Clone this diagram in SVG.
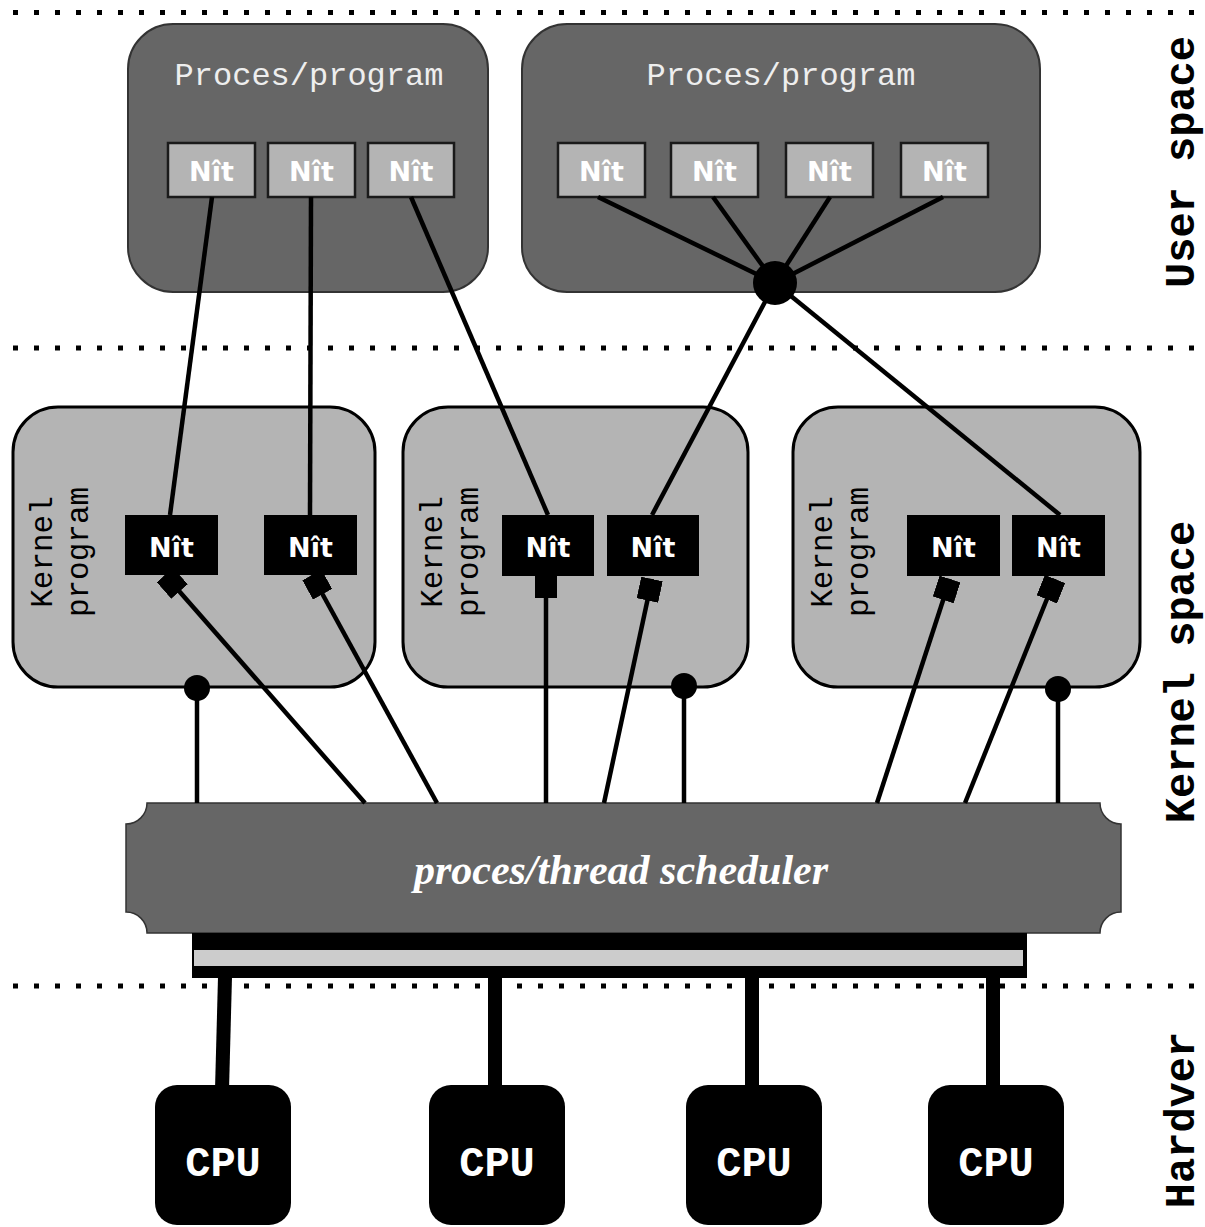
<svg xmlns="http://www.w3.org/2000/svg" width="1205" height="1227" viewBox="0 0 1205 1227">
<defs>
<style>
.dots{stroke:#000;stroke-width:5;stroke-dasharray:5 16;fill:none}
.proc{fill:#666;stroke:#333;stroke-width:2}
.kern{fill:#b4b4b4;stroke:#000;stroke-width:3}
.unit{fill:#b4b4b4;stroke:#1a1a1a;stroke-width:2.5}
.knit{fill:#000}
.nit{font-family:"DejaVu Sans",sans-serif;font-weight:bold;font-size:27px;fill:#fff;text-anchor:middle}
.ptitle{font-family:"Liberation Mono",monospace;font-size:32px;fill:#eee;text-anchor:middle}
.ktitle{font-family:"Liberation Mono",monospace;font-size:31px;fill:#000;text-anchor:middle}
.side{font-family:"Liberation Mono",monospace;font-weight:bold;font-size:42px;fill:#000;text-anchor:middle}
.cpu{fill:#000}
.cputxt{font-family:"Liberation Mono",monospace;font-weight:bold;font-size:42px;fill:#fff;text-anchor:middle}
.ln{stroke:#000;stroke-width:4.5;fill:none}
.bus{stroke:#000;stroke-width:14}
</style>
<marker id="sq" viewBox="0 0 22 22" markerWidth="22" markerHeight="22" refX="22" refY="11" orient="auto" markerUnits="userSpaceOnUse"><rect width="22" height="22" fill="#000"/></marker>
</defs>
<rect width="1205" height="1227" fill="#fff"/>
<g id="separators">
<line class="dots" x1="13" y1="12.5" x2="1195" y2="12.5"/>
<line class="dots" x1="13" y1="348" x2="1195" y2="348"/>
<line class="dots" x1="13" y1="986" x2="1195" y2="986"/>
</g>
<g id="labels">
<text class="side" transform="translate(1194,162) rotate(-90)">User space</text>
<text class="side" transform="translate(1194,672) rotate(-90)">Kernel space</text>
<text class="side" transform="translate(1194,1120) rotate(-90)">Hardver</text>
</g>
<g id="process1">
<rect class="proc" x="128" y="24" width="360" height="268" rx="45"/>
<text class="ptitle" x="309" y="85">Proces/program</text>
<rect class="unit" x="168" y="143" width="87" height="54"/><text class="nit" x="211.5" y="181">Nît</text>
<rect class="unit" x="268" y="143" width="87" height="54"/><text class="nit" x="311.5" y="181">Nît</text>
<rect class="unit" x="368" y="143" width="86" height="54"/><text class="nit" x="411" y="181">Nît</text>
</g>
<g id="process2">
<rect class="proc" x="522" y="24" width="518" height="268" rx="45"/>
<text class="ptitle" x="781" y="85">Proces/program</text>
<rect class="unit" x="558" y="143" width="87" height="54"/><text class="nit" x="601.5" y="181">Nît</text>
<rect class="unit" x="671" y="143" width="87" height="54"/><text class="nit" x="714.5" y="181">Nît</text>
<rect class="unit" x="786" y="143" width="87" height="54"/><text class="nit" x="829.5" y="181">Nît</text>
<rect class="unit" x="901" y="143" width="87" height="54"/><text class="nit" x="944.5" y="181">Nît</text>
</g>
<g id="kernel1">
<rect class="kern" x="13" y="407" width="362" height="280" rx="45"/>
<text class="ktitle" transform="translate(52,552) rotate(-90)">Kernel</text>
<text class="ktitle" transform="translate(88,552) rotate(-90)">program</text>
<rect class="knit" x="125" y="515" width="93" height="60"/><text class="nit" x="171.5" y="557">Nît</text>
<rect class="knit" x="264" y="515" width="93" height="60"/><text class="nit" x="310.5" y="557">Nît</text>
</g>
<g id="kernel2">
<rect class="kern" x="403" y="407" width="345" height="280" rx="45"/>
<text class="ktitle" transform="translate(442,552) rotate(-90)">Kernel</text>
<text class="ktitle" transform="translate(478,552) rotate(-90)">program</text>
<rect class="knit" x="502" y="515" width="92" height="61"/><text class="nit" x="548" y="557">Nît</text>
<rect class="knit" x="607" y="515" width="92" height="61"/><text class="nit" x="653" y="557">Nît</text>
</g>
<g id="kernel3">
<rect class="kern" x="793" y="407" width="347" height="280" rx="45"/>
<text class="ktitle" transform="translate(832,552) rotate(-90)">Kernel</text>
<text class="ktitle" transform="translate(868,552) rotate(-90)">program</text>
<rect class="knit" x="907" y="515" width="93" height="61"/><text class="nit" x="953.5" y="557">Nît</text>
<rect class="knit" x="1012" y="515" width="93" height="61"/><text class="nit" x="1058.5" y="557">Nît</text>
</g>
<g id="scheduler">
<path d="M147 803 H1100 A21 21 0 0 0 1121 824 V912 A21 21 0 0 0 1100 933 H147 A21 21 0 0 0 126 912 V824 A21 21 0 0 0 147 803 Z" fill="#666" stroke="#333" stroke-width="1.5"/>
<text x="621" y="884" font-family="Liberation Serif, serif" font-style="italic" font-weight="bold" font-size="42" fill="#fff" text-anchor="middle">proces/thread scheduler</text>
</g>
<g id="bus">
<rect x="192" y="933" width="835" height="45" fill="#000"/>
<rect x="194" y="950" width="829" height="16" fill="#ccc"/>
</g>
<g id="cpus">
<g id="cpu1"><rect class="cpu" x="155" y="1085" width="136" height="140" rx="22"/><text class="cputxt" x="223" y="1176">CPU</text></g>
<g id="cpu2"><rect class="cpu" x="429" y="1085" width="136" height="140" rx="22"/><text class="cputxt" x="497" y="1176">CPU</text></g>
<g id="cpu3"><rect class="cpu" x="686" y="1085" width="136" height="140" rx="22"/><text class="cputxt" x="754" y="1176">CPU</text></g>
<g id="cpu4"><rect class="cpu" x="928" y="1085" width="136" height="140" rx="22"/><text class="cputxt" x="996" y="1176">CPU</text></g>
</g>
<g id="connectors">
<line class="ln" x1="212" y1="197" x2="170" y2="515"/>
<line class="ln" x1="311" y1="197" x2="310" y2="515"/>
<line class="ln" x1="411" y1="197" x2="548" y2="515"/>
<line class="ln" x1="598" y1="197" x2="775" y2="283"/>
<line class="ln" x1="713" y1="197" x2="775" y2="283"/>
<line class="ln" x1="830" y1="197" x2="775" y2="283"/>
<line class="ln" x1="943" y1="197" x2="775" y2="283"/>
<line class="ln" x1="775" y1="283" x2="652" y2="515"/>
<line class="ln" x1="775" y1="283" x2="1060" y2="515"/>
<circle cx="775" cy="283" r="22" fill="#000"/>
<line class="ln" x1="365" y1="803" x2="165" y2="575" marker-end="url(#sq)"/>
<line class="ln" x1="437" y1="803" x2="312" y2="575" marker-end="url(#sq)"/>
<line class="ln" x1="546" y1="803" x2="546" y2="576" marker-end="url(#sq)"/>
<line class="ln" x1="604" y1="803" x2="652" y2="579" marker-end="url(#sq)"/>
<line class="ln" x1="877" y1="803" x2="950" y2="579" marker-end="url(#sq)"/>
<line class="ln" x1="965" y1="803" x2="1055" y2="579" marker-end="url(#sq)"/>
<line class="ln" x1="197" y1="688" x2="197" y2="803"/>
<circle cx="197" cy="688" r="13" fill="#000"/>
<line class="ln" x1="684" y1="686" x2="684" y2="803"/>
<circle cx="684" cy="686" r="13" fill="#000"/>
<line class="ln" x1="1058" y1="689" x2="1058" y2="803"/>
<circle cx="1058" cy="689" r="13" fill="#000"/>
<line class="bus" x1="225" y1="977" x2="222" y2="1090"/>
<line class="bus" x1="495" y1="977" x2="495" y2="1090"/>
<line class="bus" x1="752" y1="977" x2="752" y2="1090"/>
<line class="bus" x1="993" y1="977" x2="993" y2="1090"/>
</g>
</svg>
